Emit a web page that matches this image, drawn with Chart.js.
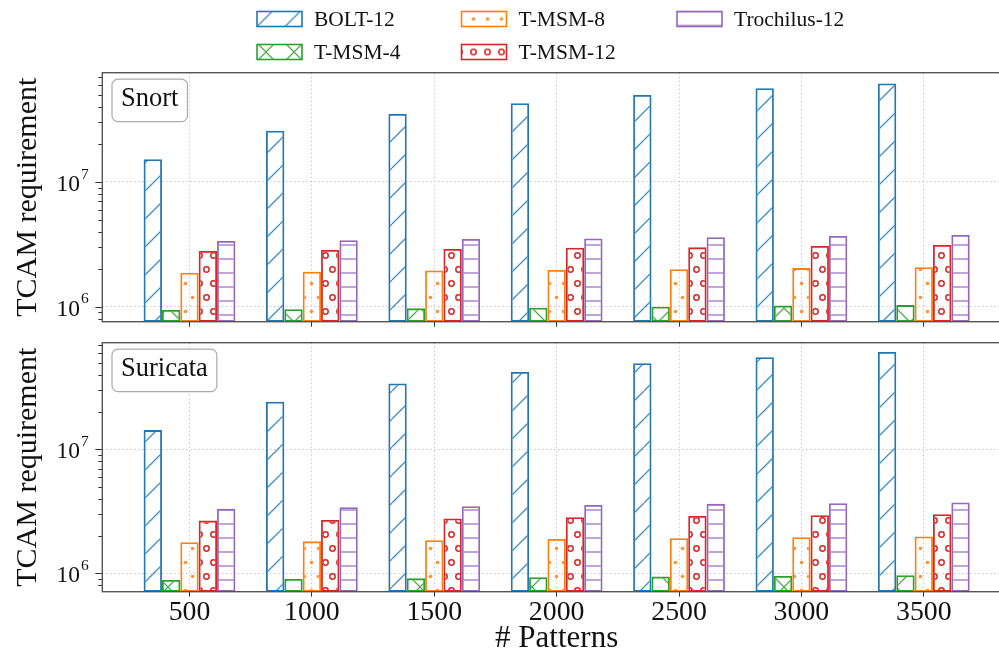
<!DOCTYPE html>
<html>
<head>
<meta charset="utf-8">
<script src="https://cdn.jsdelivr.net/npm/chart.js@4.4.1/dist/chart.umd.min.js"></script>
<style>
html, body { margin: 0; padding: 0; background: #fff; overflow: hidden; }
#wrap { position: relative; width: 999px; height: 657px; overflow: hidden; }
#wrap canvas { position: absolute; left: 0; }
#c1 { top: 0; }
#c2 { top: 335px; }
</style>
</head>
<body>
<div id="wrap">
  <canvas id="c1" width="1030" height="335"></canvas>
  <canvas id="c2" width="1030" height="322"></canvas>
</div>
<script>
// x categories (# patterns)
const patterns = [500, 1000, 1500, 2000, 2500, 3000, 3500];
const seriesNames = ['BOLT-12', 'T-MSM-4', 'T-MSM-8', 'T-MSM-12', 'Trochilus-12'];
const seriesColors = ['#1f77b4', '#2ca02c', '#ff7f0e', '#d62728', '#9467bd'];
const seriesHatch = ['slash', 'cross', 'dots', 'rings', 'hline'];

// Snort
const snortBolt12 = [1.52e7, 2.58e7, 3.51e7, 4.28e7, 4.99e7, 5.64e7, 6.17e7];
const snortTmsm4 = [9.41e5, 9.53e5, 9.70e5, 9.80e5, 1.00e6, 1.02e6, 1.03e6];
const snortTmsm8 = [1.87e6, 1.91e6, 1.95e6, 1.97e6, 2.00e6, 2.04e6, 2.07e6];
const snortTmsm12 = [2.80e6, 2.85e6, 2.90e6, 2.97e6, 2.99e6, 3.07e6, 3.13e6];
const snortTrochilus12 = [3.36e6, 3.41e6, 3.49e6, 3.53e6, 3.61e6, 3.69e6, 3.76e6];

// Suricata
const suricataBolt12 = [1.43e7, 2.42e7, 3.40e7, 4.21e7, 4.95e7, 5.53e7, 6.11e7];
const suricataTmsm4 = [8.84e5, 8.99e5, 9.10e5, 9.29e5, 9.40e5, 9.50e5, 9.63e5];
const suricataTmsm8 = [1.78e6, 1.81e6, 1.85e6, 1.89e6, 1.92e6, 1.95e6, 1.98e6];
const suricataTmsm12 = [2.66e6, 2.69e6, 2.77e6, 2.83e6, 2.90e6, 2.94e6, 2.99e6];
const suricataTrochilus12 = [3.31e6, 3.41e6, 3.47e6, 3.56e6, 3.63e6, 3.67e6, 3.72e6];

const yMajorTicks = [1e6, 1e7];

const FONT = '"Liberation Serif", "Times New Roman", serif';
Chart.defaults.font.family = FONT;
Chart.defaults.color = '#111';

function hatchPattern(ctx, kind, color) {
  const size = {slash: [28, 28], cross: [28, 28], dots: [14, 28], rings: [14, 28], hline: [14, 14]}[kind];
  const [w, h] = size;
  const c = document.createElement('canvas');
  c.width = w; c.height = h;
  const g = c.getContext('2d');
  g.strokeStyle = color;
  g.fillStyle = color;
  g.lineWidth = 1.3;
  if (kind === 'slash' || kind === 'cross') {
    g.globalAlpha = 0.85;
    g.beginPath();
    for (const k of [-w, 0, w]) { g.moveTo(k, h); g.lineTo(k + w, 0); }
    if (kind === 'cross') for (const k of [-w, 0, w]) { g.moveTo(k, 0); g.lineTo(k + w, h); }
    g.stroke();
  } else if (kind === 'dots') {
    g.globalAlpha = 0.85;
    [[3.5, 3.5], [10.5, 17.5]].forEach(([x, y]) => { g.beginPath(); g.arc(x, y, 1.8, 0, 2 * Math.PI); g.fill(); });
  } else if (kind === 'rings') {
    g.lineWidth = 1.5;
    [[3.5, 3.5], [10.5, 17.5]].forEach(([x, y]) => { g.beginPath(); g.arc(x, y, 2.7, 0, 2 * Math.PI); g.stroke(); });
  } else {
    g.globalAlpha = 0.9;
    g.beginPath(); g.moveTo(0, 7); g.lineTo(w, 7); g.stroke();
  }
  return ctx.createPattern(c, 'repeat');
}

function makeDatasets(ctx, seriesValues) {
  return seriesValues.map((vals, i) => ({
    label: seriesNames[i],
    data: patterns.map((p, j) => ({x: p, y: vals[j]})),
    backgroundColor: hatchPattern(ctx, seriesHatch[i], seriesColors[i]),
    borderColor: seriesColors[i],
    borderWidth: 1.8,
    borderSkipped: false,
    categoryPercentage: 0.75,
    barPercentage: 1.0
  }));
}

// legend swatch pattern offsets so the hatch sits like in the original
const swatchShift = {slash: [15, 0], cross: [9, 7.5], dots: [8.5, 4], rings: [8.5, 4], hline: [0, -7]};
const legendSlots = [[257, 19], [257, 52], [461.5, 19], [461.5, 52], [677, 19]];

const decorPlugin = {
  id: 'decor',
  afterDraw(chart, args, opts) {
    const {ctx, chartArea: a} = chart;
    const y = chart.scales.y;
    ctx.save();

    // y ticks (major + minor)
    ctx.strokeStyle = '#333';
    ctx.lineWidth = 1;
    const lo = Math.floor(Math.log10(y.min)), hi = Math.ceil(Math.log10(y.max));
    for (let n = lo; n <= hi; n++) {
      for (let k = 1; k <= 9; k++) {
        const v = k * Math.pow(10, n);
        if (v < y.min || v > y.max) continue;
        const py = Math.round(y.getPixelForValue(v)) + 0.5;
        const len = k === 1 ? 7 : 4;
        ctx.beginPath(); ctx.moveTo(a.left - len, py); ctx.lineTo(a.left, py); ctx.stroke();
      }
    }

    // 10^n labels
    ctx.fillStyle = '#111';
    yMajorTicks.forEach(v => {
      if (v < y.min || v > y.max) return;
      const py = y.getPixelForValue(v);
      ctx.font = '23.5px ' + FONT;
      ctx.textAlign = 'right';
      ctx.textBaseline = 'middle';
      ctx.fillText('10', a.left - 22.3, py + 3);
      ctx.font = '15.5px ' + FONT;
      ctx.textAlign = 'left';
      ctx.fillText(String(Math.round(Math.log10(v))), a.left - 21.3, py - 7.5);
    });

    // frame
    ctx.strokeStyle = '#555';
    ctx.lineWidth = 1.4;
    ctx.strokeRect(a.left, a.top, a.right - a.left, a.bottom - a.top);

    // panel name box
    ctx.font = '26.5px ' + FONT;
    const tw = ctx.measureText(opts.label).width;
    const bx = a.left + 9.7, by = a.top + 6.4, bw = tw + 18, bh = 42.5, r = 6;
    ctx.beginPath();
    ctx.moveTo(bx + r, by);
    ctx.lineTo(bx + bw - r, by);
    ctx.arcTo(bx + bw, by, bx + bw, by + r, r);
    ctx.lineTo(bx + bw, by + bh - r);
    ctx.arcTo(bx + bw, by + bh, bx + bw - r, by + bh, r);
    ctx.lineTo(bx + r, by + bh);
    ctx.arcTo(bx, by + bh, bx, by + bh - r, r);
    ctx.lineTo(bx, by + r);
    ctx.arcTo(bx, by, bx + r, by, r);
    ctx.closePath();
    ctx.fillStyle = 'rgba(255,255,255,0.9)';
    ctx.fill();
    ctx.strokeStyle = '#aaa';
    ctx.lineWidth = 1.2;
    ctx.stroke();
    ctx.fillStyle = '#111';
    ctx.textAlign = 'left';
    ctx.textBaseline = 'middle';
    ctx.fillText(opts.label, bx + 9, by + bh / 2 - 1);

    // shared legend (only on the top chart)
    if (opts.legend) {
      chart.data.datasets.forEach((ds, i) => {
        const [lx, cy] = legendSlots[i];
        const ly = cy - 7.5;
        const [ox, oy] = swatchShift[seriesHatch[i]];
        ctx.save();
        ctx.translate(lx + ox, ly + oy);
        ctx.fillStyle = ds.backgroundColor;
        ctx.fillRect(-ox, -oy, 45, 15);
        ctx.restore();
        ctx.strokeStyle = ds.borderColor;
        ctx.lineWidth = 1.6;
        ctx.strokeRect(lx, ly, 45, 15);
        ctx.fillStyle = '#111';
        ctx.font = '21.5px ' + FONT;
        ctx.textAlign = 'left';
        ctx.textBaseline = 'middle';
        ctx.fillText(ds.label, lx + 57, cy + 1);
      });
    }
    ctx.restore();
  }
};

function makeChart(canvasId, seriesValues, opts) {
  const ctx = document.getElementById(canvasId).getContext('2d');
  return new Chart(ctx, {
    type: 'bar',
    data: {datasets: makeDatasets(ctx, seriesValues)},
    plugins: [decorPlugin],
    options: {
      responsive: false,
      animation: false,
      events: [],
      layout: {padding: {top: opts.padTop, right: 19, left: 0, bottom: 0}},
      plugins: {
        legend: {display: false},
        tooltip: {enabled: false},
        decor: {label: opts.label, legend: opts.legend}
      },
      scales: {
        x: {
          type: 'linear',
          min: 143.75,
          max: 3856.25,
          offset: false,
          afterBuildTicks: s => { s.ticks = patterns.map(v => ({value: v})); },
          afterFit: s => { s.height = opts.xHeight; },
          grid: {
            offset: false,
            color: '#c8c8c8',
            lineWidth: 1,
            drawTicks: true,
            tickLength: 5,
            tickColor: '#333',
            tickWidth: 1
          },
          border: {display: false, dash: [1.5, 2.5]},
          ticks: {
            display: opts.showX,
            maxRotation: 0,
            padding: 1.7,
            font: {size: 27.8, lineHeight: 1},
            color: '#111',
            callback: v => String(v)
          },
          title: {
            display: opts.showX,
            text: '# Patterns',
            font: {size: 31, lineHeight: 1.2},
            color: '#111',
            padding: {top: 0, bottom: 0}
          }
        },
        y: {
          type: 'logarithmic',
          min: opts.yMin,
          max: opts.yMax,
          afterBuildTicks: s => {
            s.ticks = yMajorTicks.filter(v => v >= s.min && v <= s.max).map(v => ({value: v, major: true}));
          },
          afterFit: s => { s.width = 102.3; },
          grid: {color: '#c8c8c8', lineWidth: 1, drawTicks: false},
          border: {display: false, dash: [1.5, 2.5]},
          ticks: {display: false},
          title: {
            display: true,
            text: 'TCAM requirement',
            font: {size: 30, lineHeight: 1.2},
            color: '#111',
            padding: {top: 10, bottom: 0}
          }
        }
      }
    }
  });
}

makeChart('c1',
  [snortBolt12, snortTmsm4, snortTmsm8, snortTmsm12, snortTrochilus12],
  {padTop: 72.7, xHeight: 13.3, showX: false, yMin: 7.58e5, yMax: 7.52e7, label: 'Snort', legend: true});

makeChart('c2',
  [suricataBolt12, suricataTmsm4, suricataTmsm8, suricataTmsm12, suricataTrochilus12],
  {padTop: 7.7, xHeight: 65.3, showX: true, yMin: 7.1e5, yMax: 7.25e7, label: 'Suricata', legend: false});
</script>
</body>
</html>
